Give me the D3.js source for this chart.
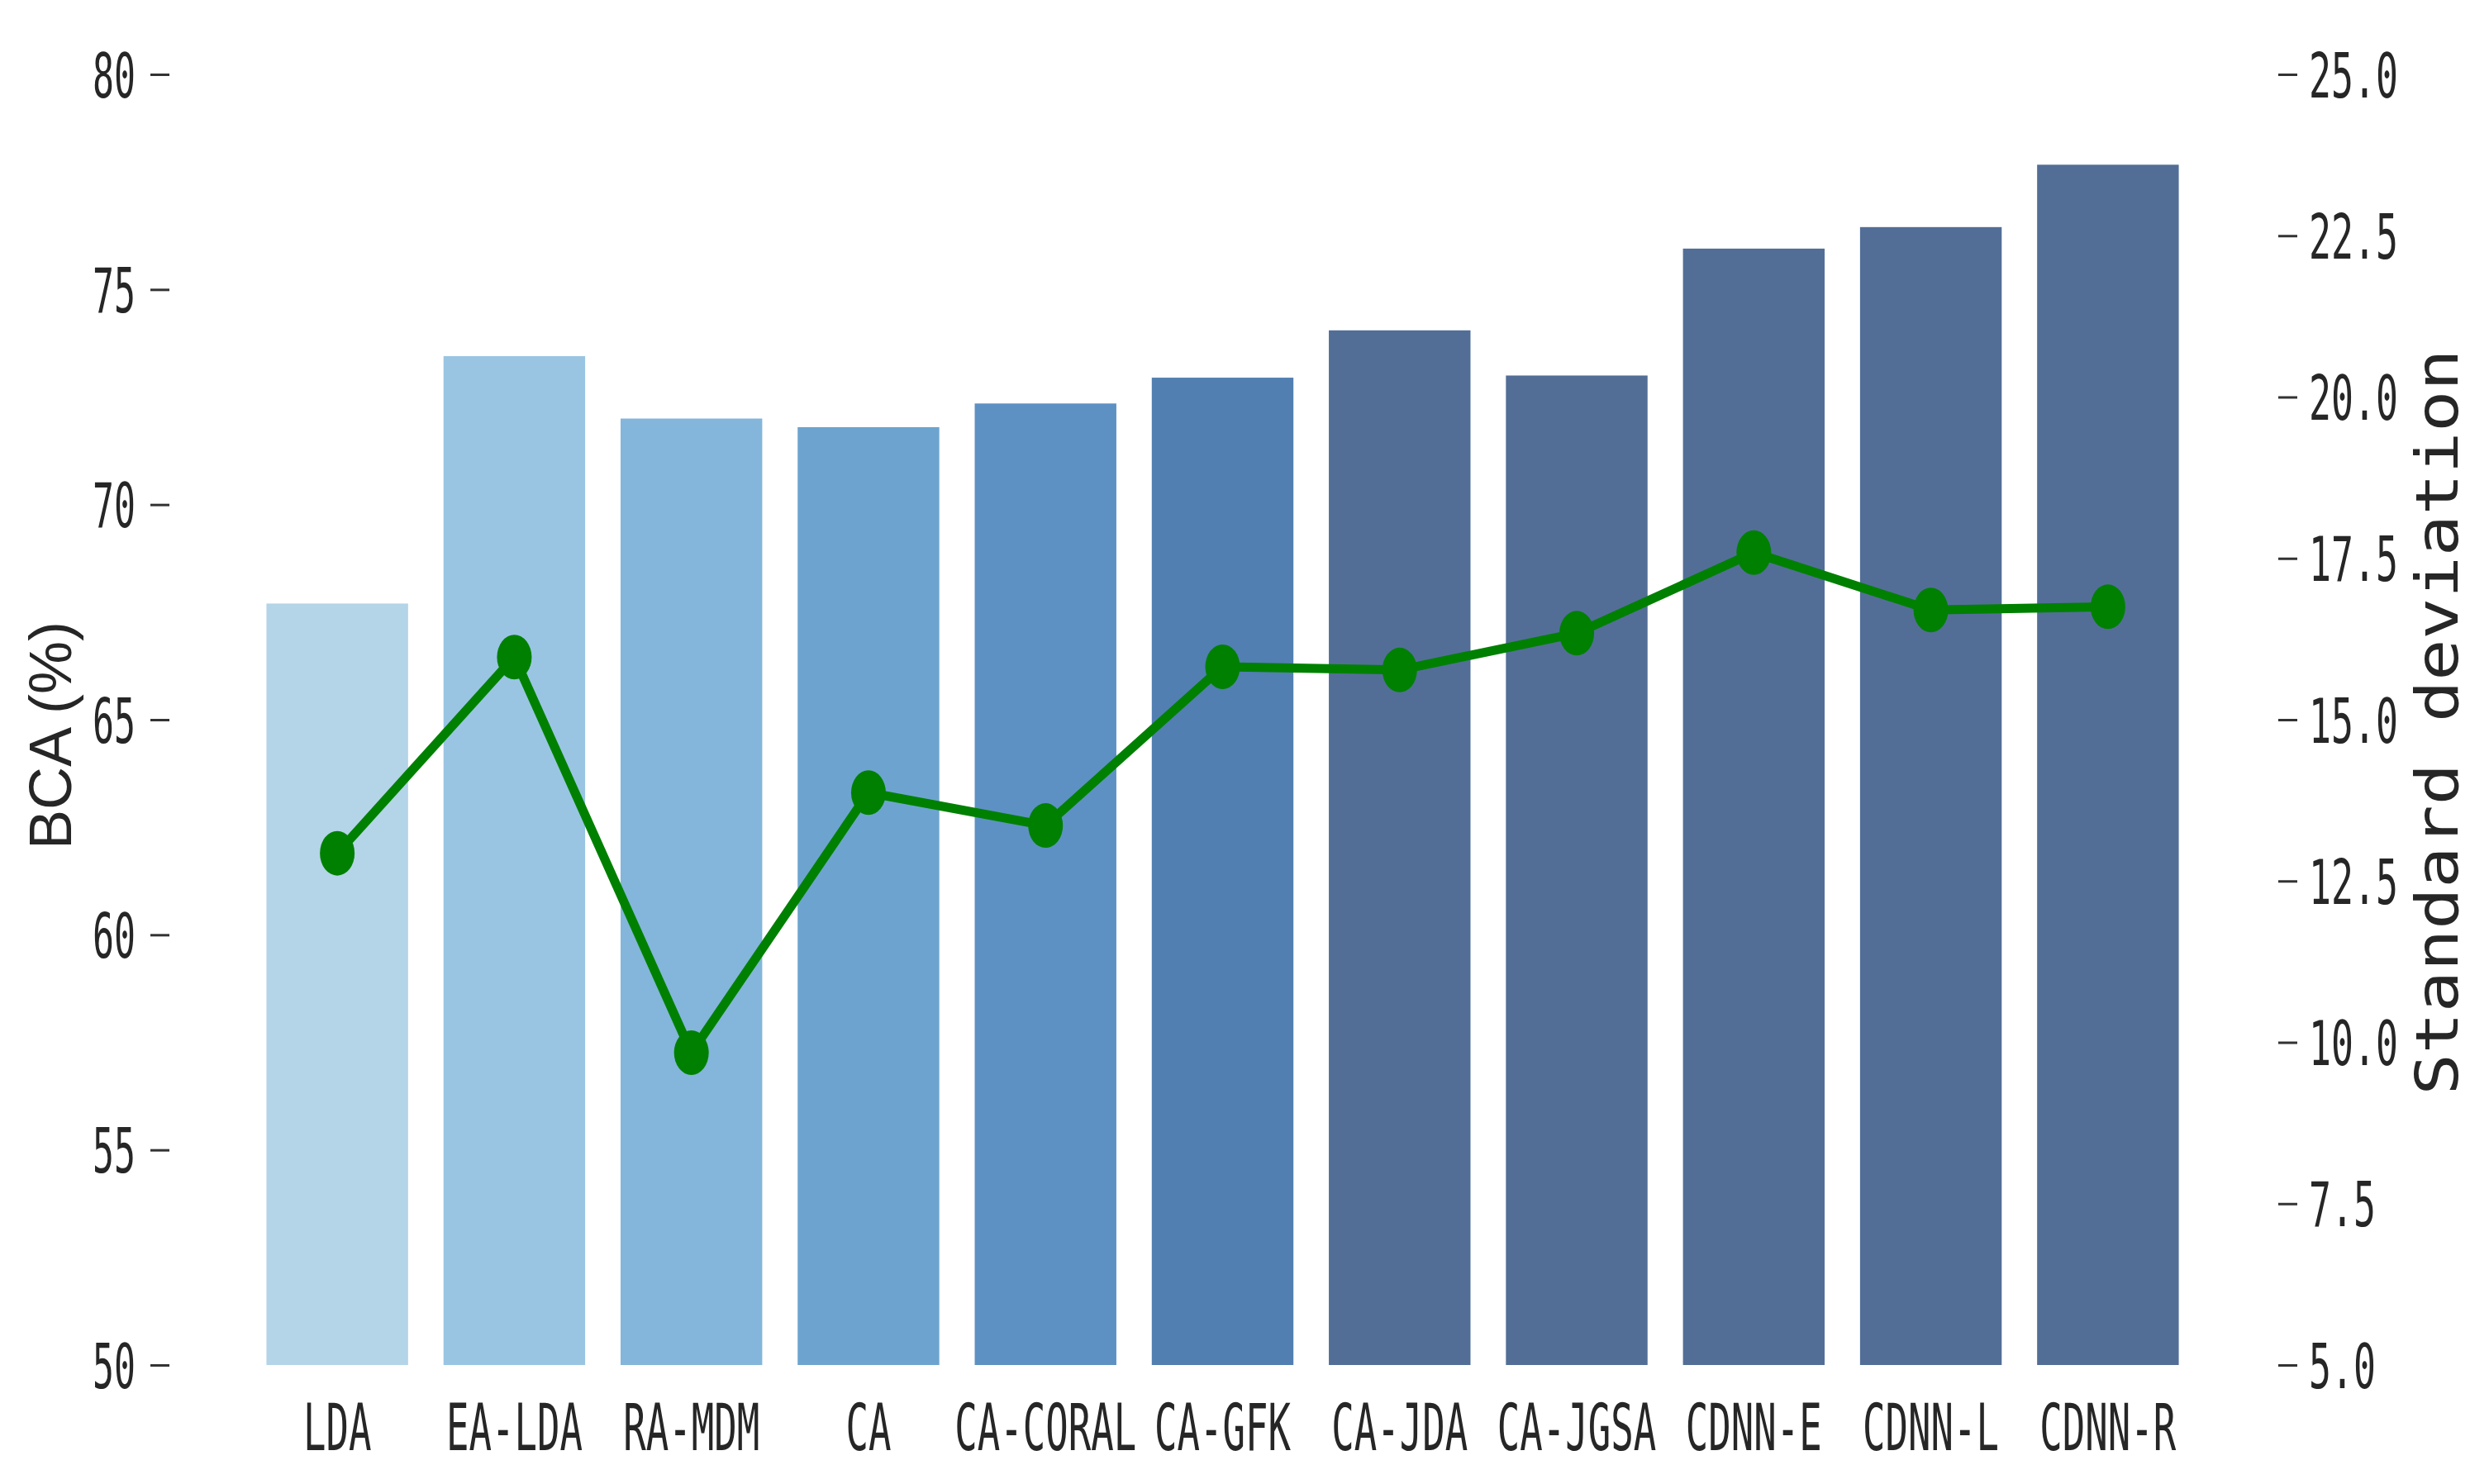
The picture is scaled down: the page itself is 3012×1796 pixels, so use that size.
<!DOCTYPE html>
<html>
<head>
<meta charset="utf-8">
<script src="https://cdn.jsdelivr.net/npm/d3@7"></script>
<style>
  html, body { margin: 0; padding: 0; background: #ffffff; }
  svg { display: block; }
</style>
</head>
<body>
<script>
// ---- data ----
const categories = ["LDA", "EA-LDA", "RA-MDM", "CA", "CA-CORAL", "CA-GFK", "CA-JDA", "CA-JGSA", "CDNN-E", "CDNN-L", "CDNN-R"];
const bcaValues = [67.7, 73.45, 72.0, 71.8, 72.35, 72.95, 74.05, 73.0, 75.95, 76.45, 77.9];
const stdValues = [12.93, 15.97, 9.84, 13.87, 13.36, 15.82, 15.77, 16.34, 17.59, 16.70, 16.75];
const leftTicks = [50, 55, 60, 65, 70, 75, 80];
const rightTicks = [5.0, 7.5, 10.0, 12.5, 15.0, 17.5, 20.0, 22.5, 25.0];
const barPalette = ["#b4d4e8", "#99c5e3", "#83b6da", "#6da4cf", "#5d91c3", "#517fb1", "#526e97", "#526e97", "#526e97", "#526e97", "#526e97"];

// ---- layout ----
const W = 3012, H = 1796;
const plotLeft = 301, plotRight = 2658, plotTop = 90, plotBottom = 1652;
const monoFont = "'DejaVu Sans Mono', monospace";
const textColor = "#262626";

const svg = d3.select("body").append("svg").attr("width", W).attr("height", H);
svg.append("rect").attr("width", W).attr("height", H).attr("fill", "#ffffff");

const x = d3.scaleBand().domain(categories).range([plotLeft, plotRight]).paddingInner(0.2).paddingOuter(0.1);
const yL = d3.scaleLinear().domain([50, 80]).range([plotBottom, plotTop]);
const yR = d3.scaleLinear().domain([5, 25]).range([plotBottom, plotTop]);

// bars
svg.append("g").selectAll("rect")
  .data(categories)
  .join("rect")
  .attr("x", d => x(d))
  .attr("width", x.bandwidth())
  .attr("y", (d, i) => yL(bcaValues[i]))
  .attr("height", (d, i) => yL(50) - yL(bcaValues[i]))
  .attr("fill", (d, i) => barPalette[i]);

// green line
const line = d3.line()
  .x((d, i) => x(categories[i]) + x.bandwidth() / 2)
  .y(d => yR(d));
svg.append("path")
  .datum(stdValues)
  .attr("d", line)
  .attr("fill", "none")
  .attr("stroke", "#008000")
  .attr("stroke-width", 11)
  .attr("stroke-linejoin", "round");
svg.append("g").selectAll("ellipse")
  .data(stdValues)
  .join("ellipse")
  .attr("cx", (d, i) => x(categories[i]) + x.bandwidth() / 2)
  .attr("cy", d => yR(d))
  .attr("rx", 21)
  .attr("ry", 27)
  .attr("fill", "#008000");

function styleTicks(g, cell) {
  g.select(".domain").remove();
  g.selectAll(".tick line").attr("stroke", "#333333").attr("stroke-width", 3);
  g.selectAll(".tick text")
    .attr("fill", textColor)
    .attr("font-family", monoFont)
    .attr("font-size", 75)
    .attr("dy", "0.36em")
    .each(function() {
      const t = d3.select(this);
      t.attr("textLength", t.text().length * cell).attr("lengthAdjust", "spacingAndGlyphs");
    });
}

// left axis
const gL = svg.append("g").attr("transform", "translate(205,0)")
  .call(d3.axisLeft(yL).tickValues(leftTicks).tickFormat(d3.format("d")).tickSize(23).tickPadding(18));
styleTicks(gL, 26);

// right axis
const gR = svg.append("g").attr("transform", "translate(2757,0)")
  .call(d3.axisRight(yR).tickValues(rightTicks).tickFormat(d3.format(".1f")).tickSize(23).tickPadding(14));
styleTicks(gR, 27);

// x labels (condensed via horizontal scale)
const labelSquash = 27.5 / (78 * 0.602);
svg.append("g").selectAll("text")
  .data(categories)
  .join("text")
  .attr("transform", d => `translate(${x(d) + x.bandwidth() / 2},1755) scale(${labelSquash},1)`)
  .attr("text-anchor", "middle")
  .attr("fill", textColor)
  .attr("font-family", monoFont)
  .attr("font-size", 78)
  .text(d => d);

// y label left
svg.append("text")
  .attr("transform", "translate(86,890) rotate(-90)")
  .attr("text-anchor", "middle")
  .attr("fill", textColor)
  .attr("font-family", "'Liberation Sans', Arial, sans-serif")
  .attr("font-size", 72)
  .text("BCA (%)");

// y label right
svg.append("text")
  .attr("transform", "translate(2974,874) rotate(-90)")
  .attr("text-anchor", "middle")
  .attr("fill", textColor)
  .attr("font-family", monoFont)
  .attr("font-size", 72)
  .attr("textLength", 903)
  .attr("lengthAdjust", "spacingAndGlyphs")
  .text("Standard deviation");
</script>
</body>
</html>
